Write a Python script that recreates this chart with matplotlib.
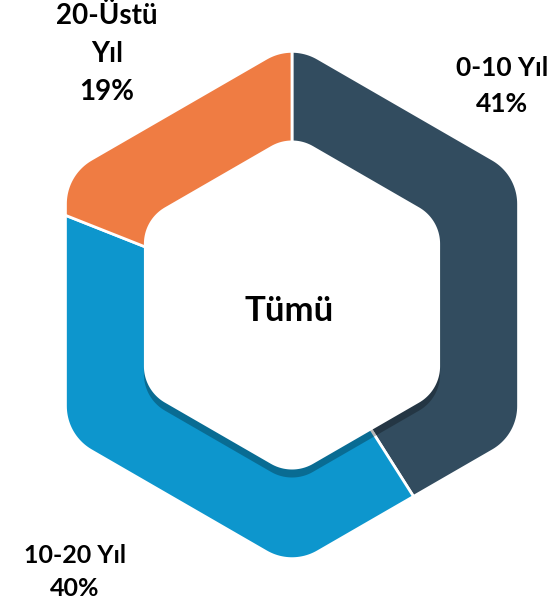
import numpy as np
import matplotlib
matplotlib.use('Agg')
import matplotlib.pyplot as plt
from matplotlib.path import Path
from matplotlib.patches import PathPatch
from matplotlib.transforms import Affine2D


labels = ['0-10 Yıl', '10-20 Yıl', '20-Üstü\nYıl']
values = [41, 40, 19]
colors = ['#324c5f', '#0d96cd', '#ef7c43']
center_text = 'Tümü'

plt.rcParams['font.family'] = ['Lato', 'DejaVu Sans']


def hexagon_pts(cx, cy, R, r, n=24):
    pts = []
    d = r / np.sin(np.radians(60))
    for k in range(6):
        a = np.radians(90 + 60 * k)
        ox = cx + (R - d) * np.cos(a)
        oy = cy + (R - d) * np.sin(a)
        th = np.linspace(a - np.radians(30), a + np.radians(30), n)
        pts += list(zip(ox + r * np.cos(th), oy + r * np.sin(th)))
    return pts


def closed_path(pts):
    pts = list(pts) + [pts[0]]
    codes = [Path.MOVETO] + [Path.LINETO] * (len(pts) - 2) + [Path.CLOSEPOLY]
    return pts, codes


def main():
    fig = plt.figure(figsize=(5.6, 6.1), dpi=100)
    ax = fig.add_axes([0, 0, 1, 1])

    cx, cy = 292, 305
    outer_pts = hexagon_pts(cx, cy, 260, 50)
    inner_pts = hexagon_pts(cx, cy, 171, 42)

    wedges, _ = ax.pie(values, colors=colors, startangle=90, counterclock=False,
                       radius=420, center=(cx, cy),
                       wedgeprops=dict(edgecolor='white', linewidth=2))

    ax.set_xlim(0, 560)
    ax.set_ylim(0, 610)
    ax.set_aspect('auto')
    ax.axis('off')

    # white mask outside the outer hexagon (box clockwise, hexagon ccw = hole)
    box = [(-50, -50), (-50, 660), (610, 660), (610, -50)]
    bv, bc = closed_path(box)
    hv, hc = closed_path(outer_pts)
    mask = Path(bv + hv, bc + hc)
    ax.add_patch(PathPatch(mask, facecolor='white', edgecolor='none', zorder=3))

    iv, ic = closed_path(inner_pts)
    inner = Path(iv, ic)
    shadow = PathPatch(inner, facecolor='black', edgecolor='none', alpha=0.28,
                       transform=Affine2D().translate(0, -8) + ax.transData, zorder=2)
    ax.add_patch(shadow)
    ax.add_patch(PathPatch(inner, facecolor='white', edgecolor='none', zorder=4))

    # label positions (outside the ring)
    pos = [(502, 524), (75, 38), (107, 556)]
    sizes = [19, 18, 20]
    for (x, y), lab, v, fs in zip(pos, labels, values, sizes):
        ax.text(x, y, '{}\n{}%'.format(lab, v), ha='center', va='center', zorder=5,
                fontsize=fs, fontweight='bold', linespacing=1.55, color='black')

    ax.text(cx - 3, 299, center_text, ha='center', va='center', zorder=5,
            fontsize=25, fontweight='bold', color='black')

    fig.savefig('out.png', dpi=100, facecolor='white')


if __name__ == '__main__':
    main()
